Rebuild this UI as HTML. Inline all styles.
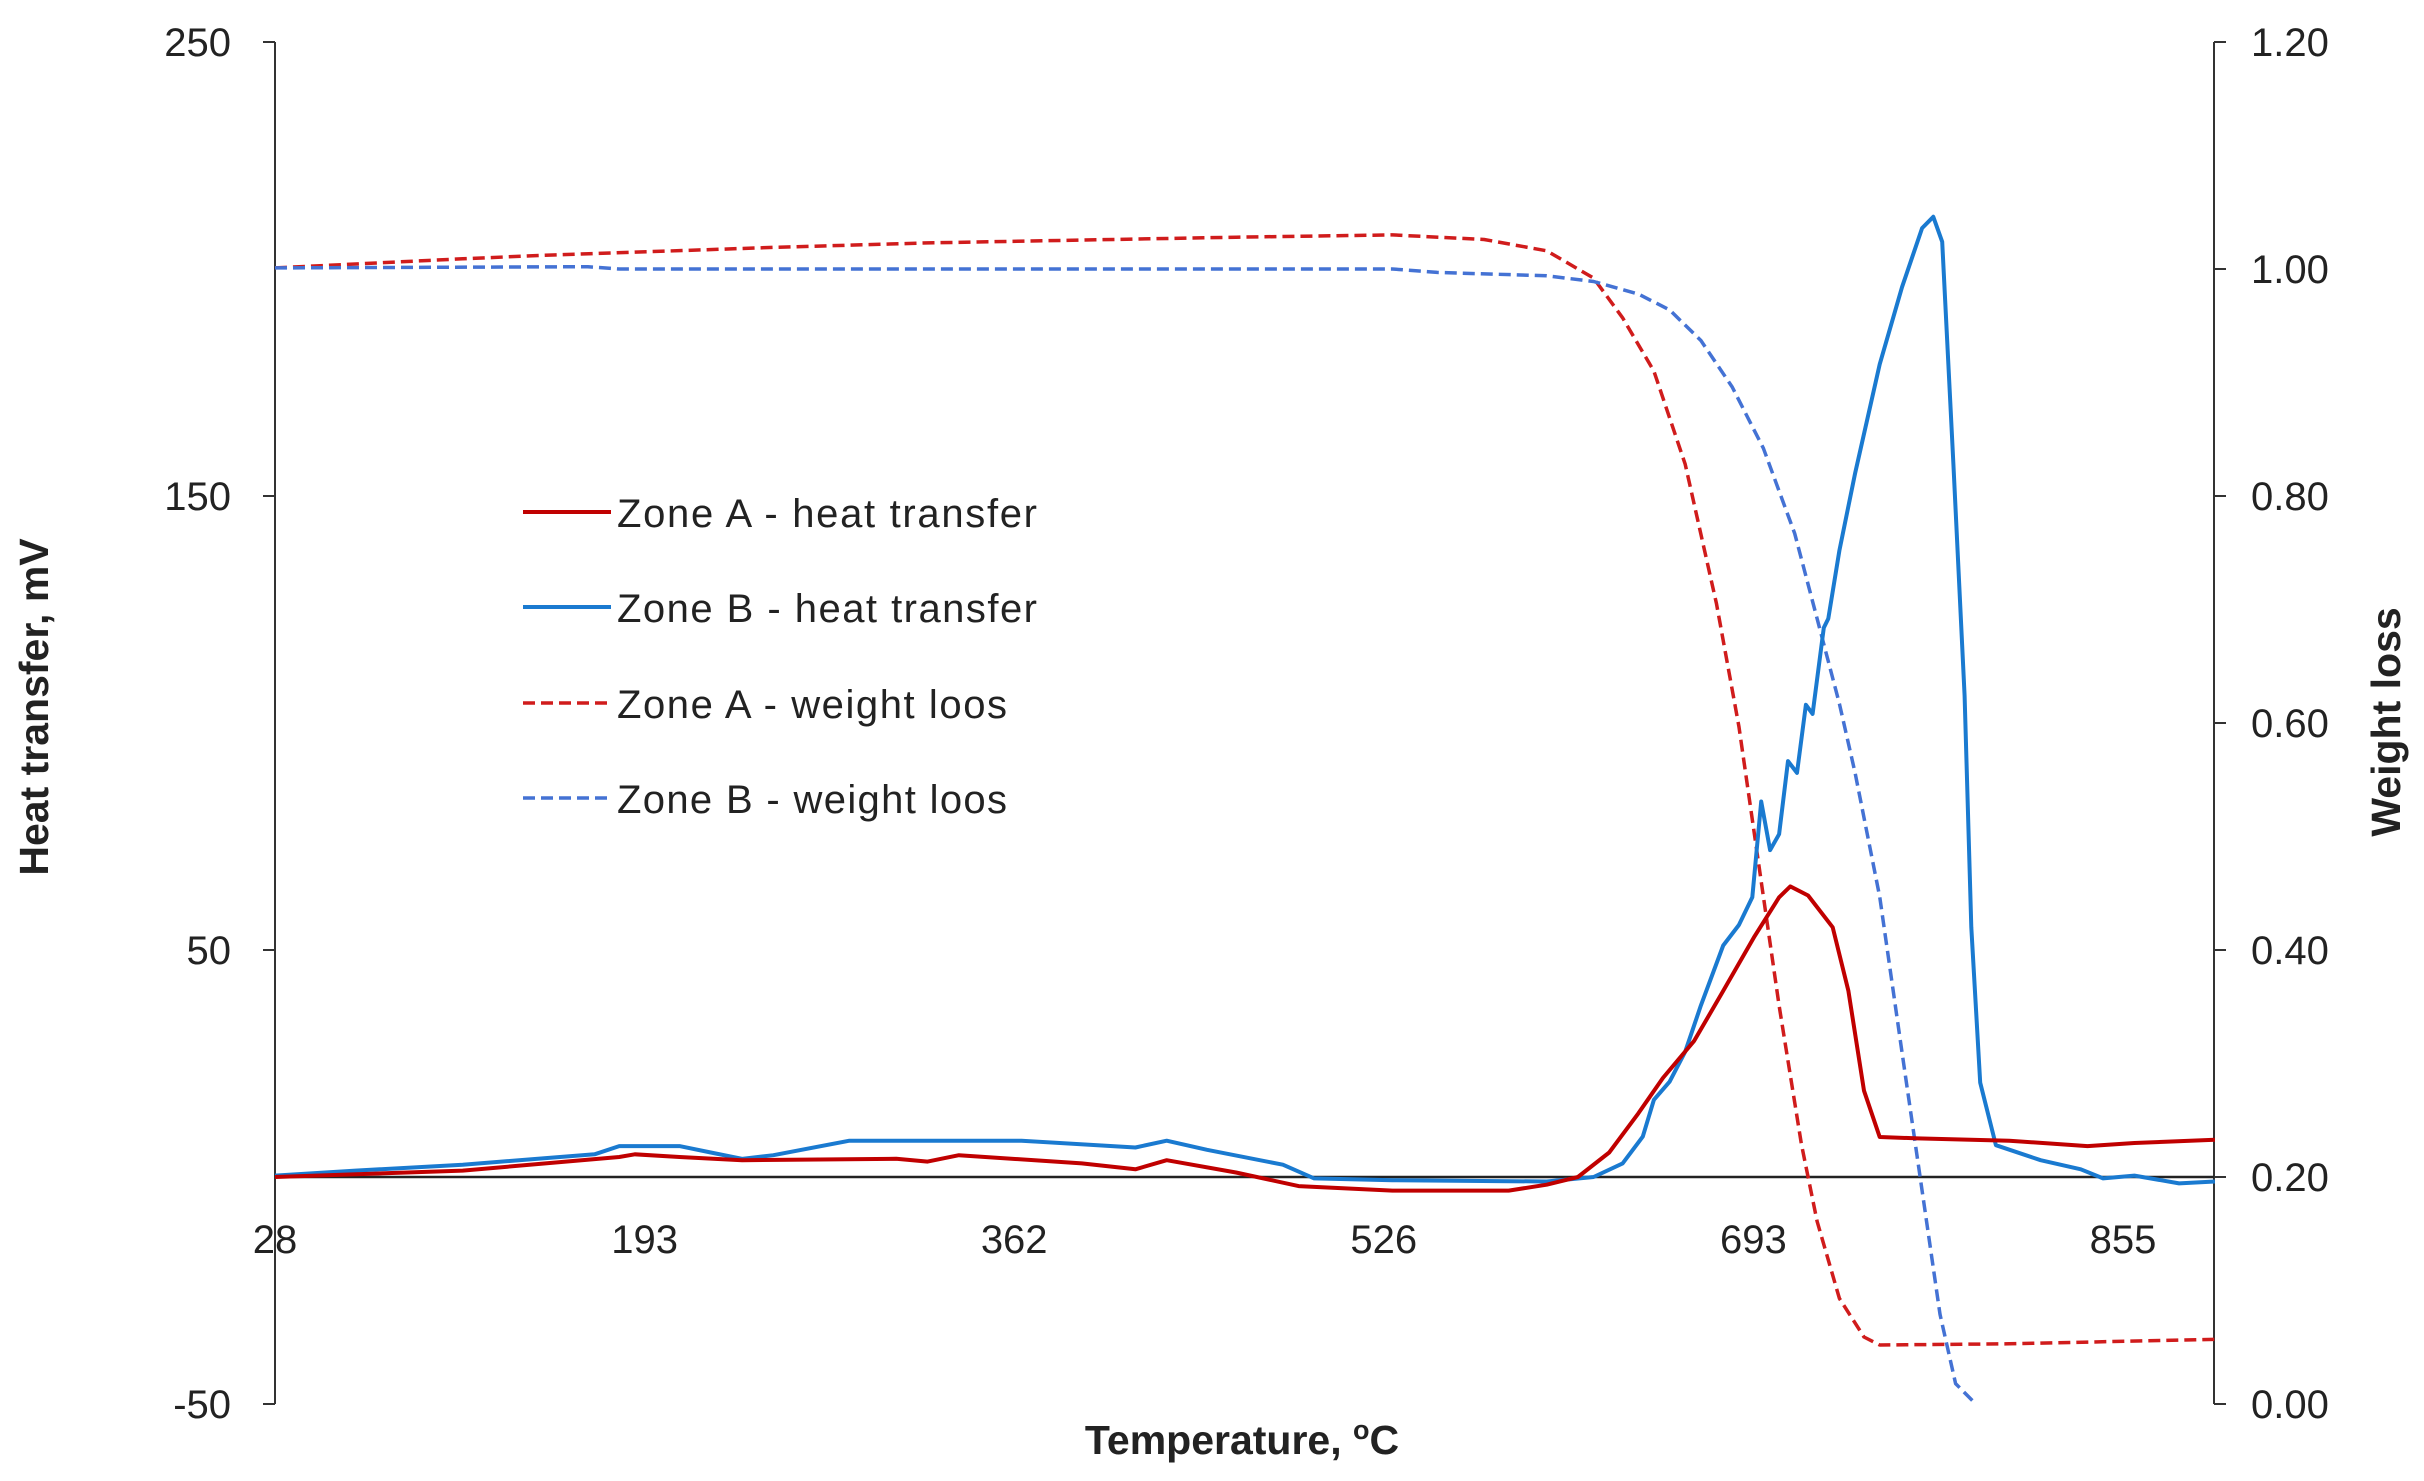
<!DOCTYPE html>
<html><head><meta charset="utf-8"><style>
html,body{margin:0;padding:0;background:#fff;}
svg{display:block;font-family:"Liberation Sans",sans-serif;}
</style></head><body>
<svg id="chart" width="2424" height="1481" viewBox="0 0 2424 1481" xmlns="http://www.w3.org/2000/svg">
<rect width="2424" height="1481" fill="#fff"/>
<g id="axes"></g>
<g id="series"></g>
<g id="legend"></g>
<text x="1242" y="1454" text-anchor="middle" font-size="41" font-weight="bold" fill="#222">Temperature, <tspan font-size="27" dy="-15">o</tspan><tspan dy="15">C</tspan></text>
<text transform="translate(48,707) rotate(-90)" text-anchor="middle" font-size="41" font-weight="bold" fill="#222">Heat transfer, mV</text>
<text transform="translate(2400,722) rotate(-90)" text-anchor="middle" font-size="41" font-weight="bold" fill="#222">Weight loss</text>
</svg>
<script>
const xTickLabels = [28, 193, 362, 526, 693, 855];
const yLeftTicks = [250, 150, 50, -50];
const yRightTicks = ["1.20","1.00","0.80","0.60","0.40","0.20","0.00"];

const aHeatT = [28,112,182,189,209,237,306,320,334,389,413,427,458,486,528,580,597,611,625,638,649,663,676,690,701,706,714,725,732,739,746,763,804,839,860,896];
const aHeatV = [0,1.4,4.4,5,4.4,3.7,4,3.4,4.8,3,1.7,3.7,1,-2,-3,-3,-1.7,0,5.4,14,21.8,30,41,53,61.6,64,62,55,41,19,8.8,8.5,8,6.8,7.5,8.2];

const bHeatT = [28,64,112,171,182,209,223,237,251,285,362,413,427,445,479,493,528,597,618,631,640,645,652,659,666,676,683,689,693,697,701,705,709,713,716,721,723,728,735,746,756,765,770,774,779,784,787,791,798,818,836,846,860,880,896];
const bHeatV = [0.3,1.4,2.7,5,6.8,6.8,5.4,4,4.8,8,8,6.5,8,6,2.7,-0.3,-0.7,-1,0,3,8.9,17,21,27.6,37.8,51,55.5,61.6,82.7,72,75.5,91.6,89,104,102,121,123,138,155,179,196,209,211.5,206,157,106,55,20.8,7,3.7,1.7,-0.3,0.3,-1.4,-1];

const aWtT = [28,112,147,251,320,458,528,569,597,618,631,645,659,673,683,694,701,711,718,728,739,746,804,896];
const aWtV = [1.001,1.009,1.012,1.019,1.023,1.028,1.030,1.026,1.016,0.992,0.957,0.91,0.828,0.705,0.597,0.447,0.351,0.229,0.161,0.093,0.059,0.052,0.053,0.057];

const bWtT = [28,168,182,528,548,597,618,638,652,666,680,694,708,718,728,735,746,756,766,773,780,789];
const bWtV = [1.001,1.002,1.0,1.0,0.997,0.994,0.989,0.978,0.964,0.937,0.896,0.842,0.767,0.692,0.617,0.556,0.447,0.31,0.174,0.079,0.018,0.0];

const NS = "http://www.w3.org/2000/svg";
const X0 = 275, X1 = 2214, T0 = 28, T1 = 895.6;
const YTOP = 42, YBOT = 1404;
function xs(t){ return X0 + (t - T0) * (X1 - X0) / (T1 - T0); }
function yl(v){ return YBOT - (v + 50) * (YBOT - YTOP) / 300; }
function yr(w){ return YBOT - w * (YBOT - YTOP) / 1.2; }
function mk(tag, attrs, parent){ const e = document.createElementNS(NS, tag); for (const k in attrs) e.setAttribute(k, attrs[k]); parent.appendChild(e); return e; }

const axes = document.getElementById('axes');
let e;
e = mk('line', {x1:X0, y1:YTOP, x2:X0, y2:YBOT, stroke:'#333', 'stroke-width':2}, axes);


e = mk('line', {x1:X1, y1:YTOP, x2:X1, y2:YBOT, stroke:'#333', 'stroke-width':2}, axes);


e = mk('line', {x1:X0, y1:yl(0), x2:X1, y2:yl(0), stroke:'#222', 'stroke-width':2.5}, axes);



yLeftTicks.forEach(v => {
  const y = yl(v);
  e = mk('line', {x1:X0-12, y1:y, x2:X0, y2:y, stroke:'#333', 'stroke-width':2}, axes);
  
  
  e = mk('text', {x:X0-44, y:y+14, 'text-anchor':'end', 'font-size':40, fill:'#222'}, axes);
  e.textContent = v;
  
  
});
yRightTicks.forEach(s => {
  const y = yr(parseFloat(s));
  e = mk('line', {x1:X1, y1:y, x2:X1+12, y2:y, stroke:'#333', 'stroke-width':2}, axes);
  
  
  e = mk('text', {x:X1+37, y:y+14, 'text-anchor':'start', 'font-size':40, fill:'#222'}, axes);
  e.textContent = s;
  
  
});
xTickLabels.forEach((t, i) => {
  const x = X0 + i * (2123 - X0) / 5;
  e = mk('text', {x:x, y:1253, 'text-anchor':'middle', 'font-size':40, fill:'#222'}, axes);
  e.textContent = t;
  
  
});

const series = document.getElementById('series');
function line(ts, vs, yf, color, dash, name){
  const d = ts.map((t,i)=> (i?'L':'M') + xs(t).toFixed(1) + ',' + yf(vs[i]).toFixed(1)).join(' ');
  const p = mk('path', {d:d, fill:'none', stroke:color, 'stroke-width': dash ? 3.5 : 4, 'stroke-linejoin':'round'}, series);
  if (dash) p.setAttribute('stroke-dasharray', '12 6');
  
  
}
line(aWtT, aWtV, yr, '#d01c1c', true, 'zone-a-weight-line');
line(bWtT, bWtV, yr, '#4472d4', true, 'zone-b-weight-line');
line(bHeatT, bHeatV, yl, '#1a7ad0', false, 'zone-b-heat-line');
line(aHeatT, aHeatV, yl, '#c00000', false, 'zone-a-heat-line');

const legend = document.getElementById('legend');
const legItems = [
  ['Zone A - heat transfer', '#c00000', false, 512],
  ['Zone B - heat transfer', '#1a7ad0', false, 607],
  ['Zone A - weight loos', '#d01c1c', true, 703],
  ['Zone B - weight loos', '#4472d4', true, 798]
];
legItems.forEach(it => {
  const g = mk('g', {}, legend);
  
  
  const l = mk('line', {x1:523, y1:it[3], x2:611, y2:it[3], stroke:it[1], 'stroke-width': it[2] ? 3.5 : 4}, g);
  if (it[2]) l.setAttribute('stroke-dasharray', '12 6');
  
  
  const t = mk('text', {x:617, y:it[3]+15, 'font-size':40, fill:'#222'}, g);
  t.setAttribute('textLength', it[0].indexOf('heat') > 0 ? 420 : 390);
  t.textContent = it[0];
  
  
});
</script>
</body></html>
